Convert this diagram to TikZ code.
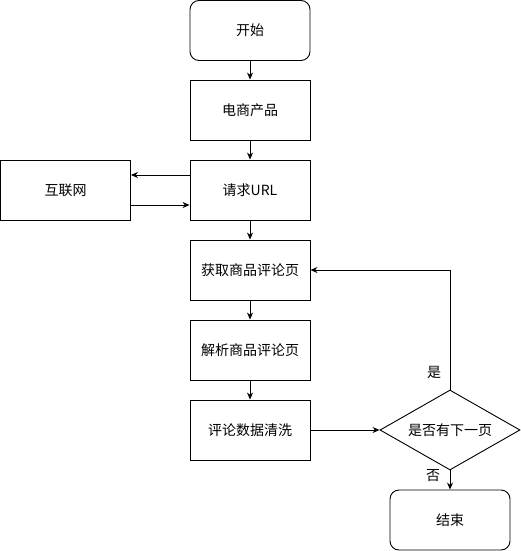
\documentclass[tikz,border=0pt]{standalone}
\usepackage{fontspec}
\setmainfont{Noto Sans CJK SC}
\usetikzlibrary{shapes.geometric,arrows.meta}
\begin{document}
\begin{tikzpicture}[x=1pt,y=-1pt,
  box/.style={draw,line width=0.9pt,minimum width=120pt,minimum height=60pt,inner sep=0pt,font=\fontsize{14}{16}\selectfont},
  rbox/.style={box,rounded corners=9pt},
  dia/.style={draw,diamond,line width=0.9pt,minimum width=140pt,minimum height=80pt,inner sep=0pt,aspect=1.75,font=\fontsize{14}{16}\selectfont},
  arr/.style={draw,line width=0.9pt,-{Stealth[length=7pt,width=6pt]}},
  lbl/.style={font=\fontsize{14}{16}\selectfont}]
\useasboundingbox (0,0) rectangle (521,551);
\node[rbox] (start) at (250,30.5) {开始};
\node[box] (prod) at (250,110) {电商产品};
\node[box] (req) at (250,190) {请求URL};
\node[box,minimum width=130pt] (net) at (65.5,190) {互联网};
\node[box] (get) at (250,270) {获取商品评论页};
\node[box] (parse) at (250,350) {解析商品评论页};
\node[box] (clean) at (250,430) {评论数据清洗};
\node[dia] (q) at (450,430) {是否有下一页};
\node[rbox] (end) at (450,520) {结束};
\draw[arr] (start) -- (prod);
\draw[arr] (prod) -- (req);
\draw[arr] (req) -- (get);
\draw[arr] (get) -- (parse);
\draw[arr] (parse) -- (clean);
\draw[arr] (clean) -- (q);
\draw[arr] ([yshift=15pt]req.west) -- ([yshift=15pt]net.east);
\draw[arr] ([yshift=-15pt]net.east) -- ([yshift=-15pt]req.west);
\draw[arr] (q.north) |- (get.east);
\draw[arr] (q.south) -- (end.north);
\node[lbl] (yes) at (434,372) {是};
\node[lbl] (no) at (433,476) {否};
\end{tikzpicture}
\end{document}
